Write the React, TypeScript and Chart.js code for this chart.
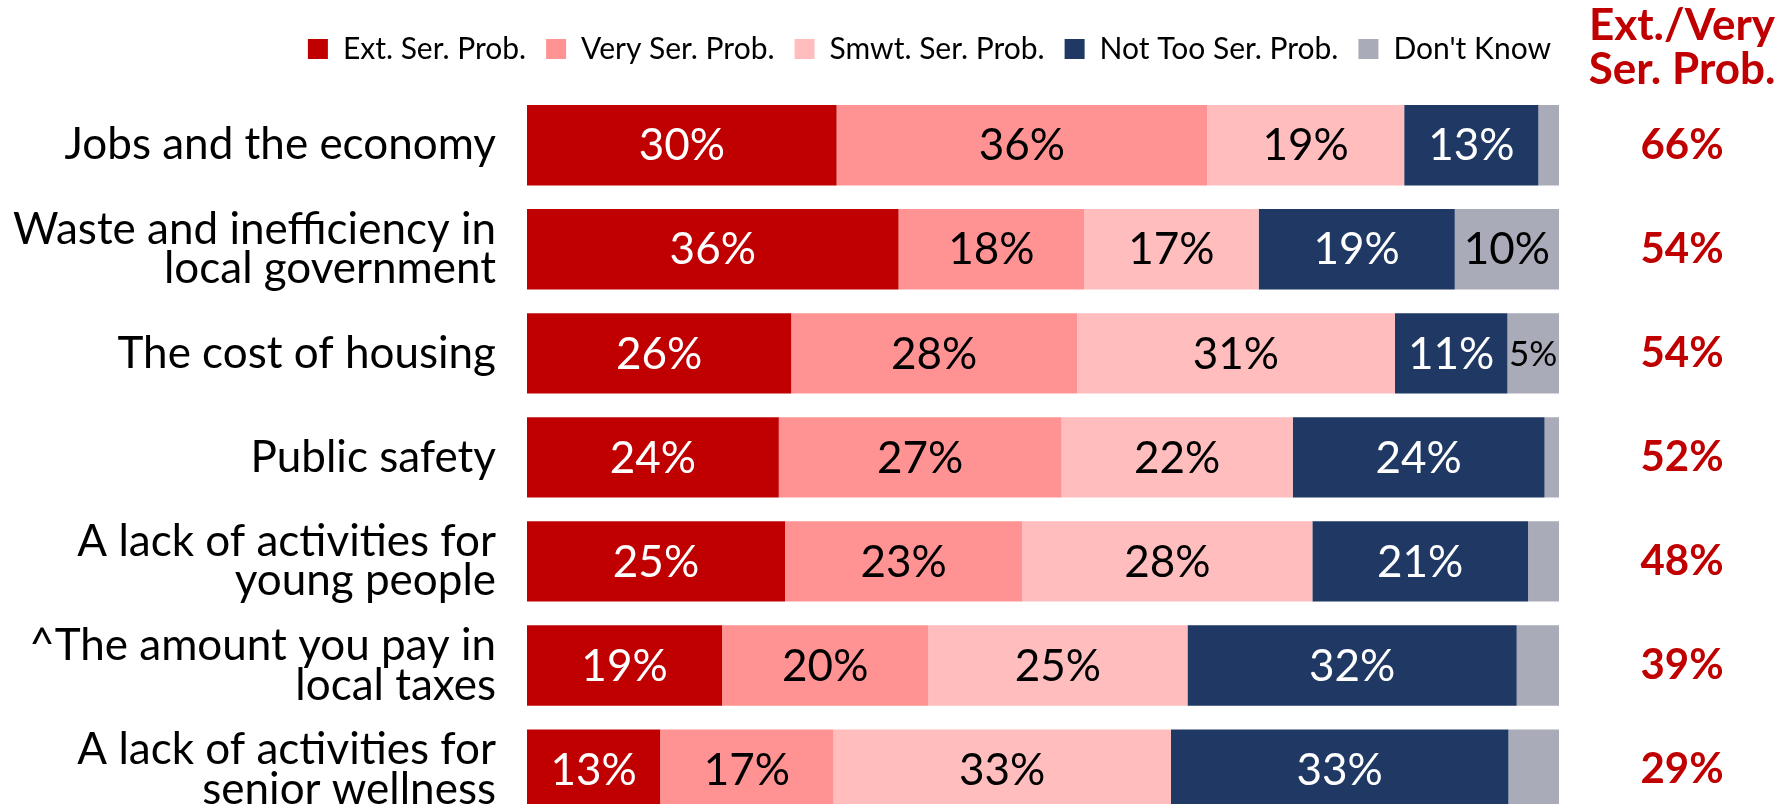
import React, { useEffect, useRef } from "react";
import { Chart, registerables } from "chart.js";

Chart.register(...registerables);

const categories: string[][] = [
  ["Jobs and the economy"],
  ["Waste and inefficiency in", "local government"],
  ["The cost of housing"],
  ["Public safety"],
  ["A lack of activities for", "young people"],
  ["^The amount you pay in", "local taxes"],
  ["A lack of activities for", "senior wellness"],
];

const seriesNames = ["Ext. Ser. Prob.", "Very Ser. Prob.", "Smwt. Ser. Prob.", "Not Too Ser. Prob.", "Don't Know"];

const extSerious = [30.0, 36.0, 25.6, 24.4, 25.0, 18.9, 12.9];
const verySerious = [35.9, 18.0, 27.7, 27.4, 23.0, 20.0, 16.8];
const smwtSerious = [19.1, 16.9, 30.8, 22.4, 28.1, 25.1, 32.7];
const notTooSerious = [13.0, 19.0, 10.9, 24.4, 20.9, 31.9, 32.7];
const dontKnow = [2.0, 10.1, 5.0, 1.4, 3.0, 4.1, 4.9];

const extVeryTotal = [66, 54, 54, 52, 48, 39, 29];
const totalHeader = ["Ext./Very", "Ser. Prob."];

const COLORS = ["#C00000", "#FF9393", "#FFBDBD", "#1F3864", "#A9ABB8"];
const LABEL_COLORS = ["#FFFFFF", "#000000", "#000000", "#FFFFFF", "#000000"];
const FONT = "Lato, 'Noto Sans', sans-serif";
const RED = "#C00000";

const W = 1781;
const H = 830;
const PAD_TOP = 14;
const CHART_TOP = 93.2;
const CHART_BOTTOM = 821.6;

const segmentLabels = {
  id: "segmentLabels",
  afterDatasetsDraw(chart: any) {
    const ctx = chart.ctx;
    ctx.save();
    ctx.textAlign = "center";
    ctx.textBaseline = "middle";
    chart.data.datasets.forEach((ds: any, di: number) => {
      const meta = chart.getDatasetMeta(di);
      meta.data.forEach((bar: any, i: number) => {
        const v = ds.data[i];
        if (di === 4 && v < 5) return;
        const small = di === 4 && v < 8;
        ctx.font = `${small ? 35 : 44}px ${FONT}`;
        ctx.fillStyle = LABEL_COLORS[di];
        const c = bar.getCenterPoint();
        ctx.fillText(`${Math.round(v)}%`, c.x, c.y + 1);
      });
    });
    ctx.restore();
  },
};

const totalsColumn = {
  id: "totalsColumn",
  afterDraw(chart: any) {
    const ctx = chart.ctx;
    const x = chart.chartArea.right + 123;
    const yScale = chart.scales.y;
    ctx.save();
    ctx.textAlign = "center";
    ctx.textBaseline = "middle";
    ctx.fillStyle = RED;
    ctx.font = `bold 44px ${FONT}`;
    ctx.fillText(totalHeader[0], x, 26);
    ctx.fillText(totalHeader[1], x, 70);
    ctx.font = `bold 42px ${FONT}`;
    extVeryTotal.forEach((v, i) => {
      ctx.fillText(`${v}%`, x, yScale.getPixelForValue(i));
    });
    ctx.restore();
  },
};

const legendLayout = {
  id: "legendLayout",
  beforeLayout(chart: any) {
    const legend = chart.legend;
    if (legend && !legend.__patched) {
      const orig = legend.fit.bind(legend);
      legend.fit = () => {
        orig();
        legend.height = CHART_TOP - PAD_TOP;
      };
      legend.__patched = true;
    }
  },
  afterLayout(chart: any) {
    const legend = chart.legend;
    if (legend) {
      legend.left += 12;
      legend.right += 12;
    }
  },
};

export default function App() {
  const ref = useRef<HTMLCanvasElement | null>(null);
  useEffect(() => {
    if (!ref.current) return;
    const values = [extSerious, verySerious, smwtSerious, notTooSerious, dontKnow];
    const chart = new Chart(ref.current, {
      type: "bar",
      data: {
        labels: categories,
        datasets: values.map((d, i) => ({
          label: seriesNames[i],
          data: d,
          backgroundColor: COLORS[i],
          borderWidth: 0,
          categoryPercentage: 0.772,
          barPercentage: 1,
        })),
      },
      options: {
        indexAxis: "y",
        responsive: false,
        animation: false,
        devicePixelRatio: 1,
        layout: { padding: { top: PAD_TOP, right: 222, bottom: H - CHART_BOTTOM, left: 0 } },
        scales: {
          x: { stacked: true, min: 0, max: 100, display: false },
          y: {
            stacked: true,
            grid: { display: false, drawTicks: false },
            border: { display: false },
            ticks: {
              color: "#000000",
              font: { family: FONT, size: 44, lineHeight: 0.9 },
              padding: 31,
              autoSkip: false,
            },
            afterFit(scale: any) {
              scale.width = 527;
              scale.paddingTop = 0;
              scale.paddingBottom = 0;
            },
          },
        },
        plugins: {
          legend: {
            position: "top",
            align: "end",
            labels: {
              boxWidth: 20,
              boxHeight: 20,
              padding: 20,
              color: "#000000",
              font: { family: FONT, size: 30 },
            },
          },
          tooltip: { enabled: false },
        },
      },
      plugins: [segmentLabels, totalsColumn, legendLayout],
    } as any);
    return () => chart.destroy();
  }, []);
  return (
    <div style={{ position: "fixed", left: 0, top: 0, width: W, height: 804, overflow: "hidden", background: "#fff" }}>
      <canvas ref={ref} width={W} height={H} style={{ width: W, height: H, display: "block" }} />
    </div>
  );
}
